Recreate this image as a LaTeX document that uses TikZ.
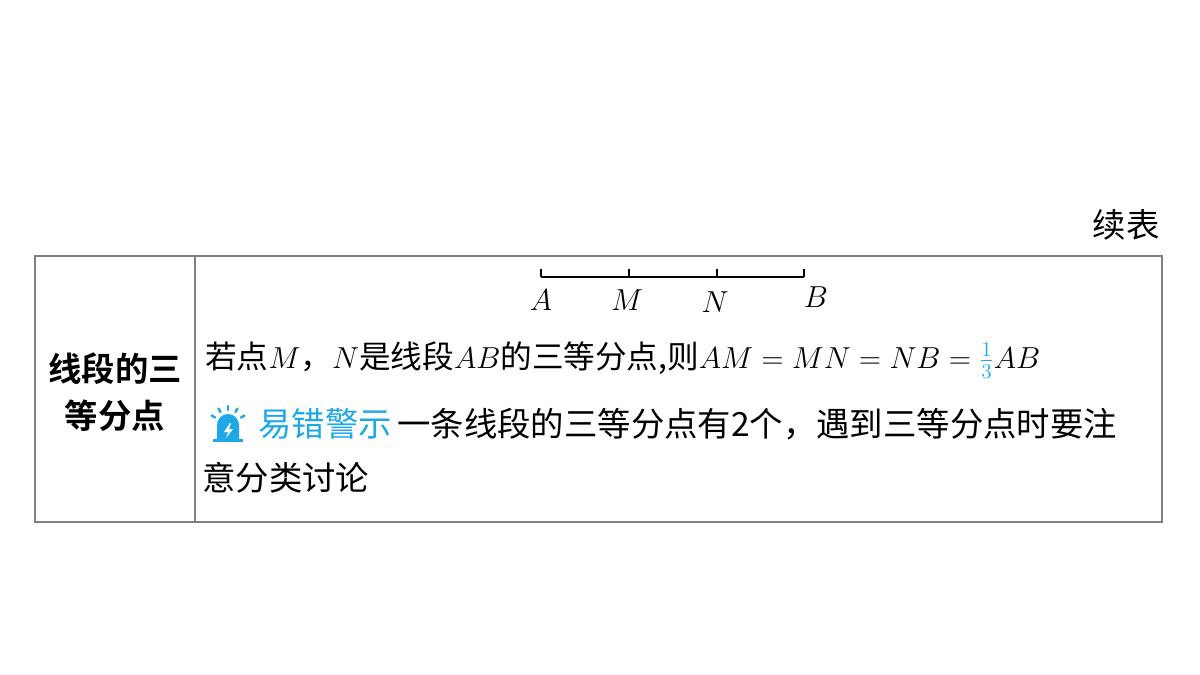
\documentclass[tikz,border=0pt]{standalone}
\usepackage{fontspec}
\setmainfont{Liberation Serif}
\newfontfamily\cjk{Noto Sans CJK SC}
\newfontfamily\cjkb{Noto Sans CJK SC Bold}
\usetikzlibrary{calc}
\definecolor{warnblue}{HTML}{1FA8E6}
\definecolor{rulegray}{HTML}{808080}
\tikzset{
  cell/.style={anchor=west, inner sep=0pt, font=\fontsize{19}{22}\selectfont\cjk},
  ptlabel/.style={font=\fontsize{17}{20}\selectfont, inner sep=1pt}
}
\begin{document}
\begin{tikzpicture}[x=0.02cm, y=-0.02cm]
  \useasboundingbox (0,0) rectangle (1200,675);
  % table frame
  \draw[rulegray, line width=0.6pt] (35,256) rectangle (1162,522);
  \draw[rulegray, line width=0.6pt] (195,256) -- (195,522);
  \node[cell, anchor=east] (xubiao) at (1160,225) {续表};
  % left column
  \node[font=\fontsize{19}{27}\selectfont\cjkb, align=center] (title) at (115,392) {线段的三\\等分点};
  % segment AB
  \coordinate (A) at (541,277);
  \coordinate (M) at (629,277);
  \coordinate (N) at (717,277);
  \coordinate (B) at (804,277);
  \draw[line width=0.8pt] (A) -- (B);
  \foreach \p in {A,M,N,B}
    \draw[line width=0.8pt] (\p) -- ++(0,-8);
  \node[ptlabel] (la) at (541,300) {$A$};
  \node[ptlabel] (lm) at (627,300) {$M$};
  \node[ptlabel] (ln) at (715,302) {$N$};
  \node[ptlabel] (lb) at (816,297) {$B$};
  % definition line
  \node[cell, font=\fontsize{18}{22}\selectfont\cjk] (def) at (205,360)
    {若点$M$，$N$是线段$AB$的三等分点,则$AM=MN=NB=\textcolor{warnblue}{\frac{1}{3}}AB$};
  % warning icon
  \fill[warnblue] (213,439) rectangle (243,442);
  \fill[warnblue] (217,439) -- (217,425) arc (180:360:11) -- (239,439) -- cycle;
  \fill[white] (230,423) -- (224,432) -- (228,432) -- (226,438) -- (233,429) -- (229,429) -- (231,423) -- cycle;
  \foreach \a in {30,60,90,120,150}
    \draw[warnblue, line width=1.4pt, line cap=round] ($(228,425)+(\a:-15)$) -- ($(228,425)+(\a:-19)$);
  \node[cell] (warn) at (258,424) {\textcolor{warnblue}{易错警示}\,一条线段的三等分点有2个，遇到三等分点时要注};
  \node[cell] (tip2) at (202,478) {意分类讨论};
\end{tikzpicture}
\end{document}
